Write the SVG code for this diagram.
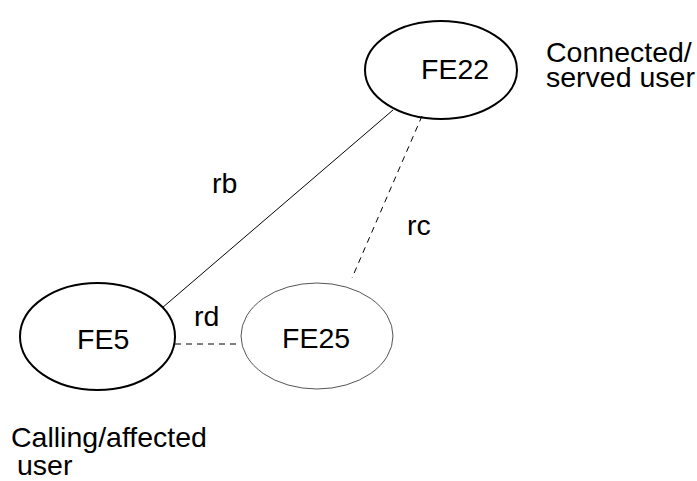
<svg xmlns="http://www.w3.org/2000/svg" width="697" height="481" viewBox="0 0 697 481">
<style>
text{font-family:"Liberation Sans",Arial,sans-serif;font-size:28.5px;fill:#000}
.node{fill:none;stroke:#000;stroke-width:2}
.ghost{fill:none;stroke:#555;stroke-width:1}
.solid{stroke:#000;stroke-width:1;fill:none}
.dash{stroke:#000;stroke-width:1;fill:none;stroke-dasharray:6 5}
</style>
<rect width="697" height="481" fill="#fff"/>
<g id="connectors">
<line class="solid" x1="162" y1="308" x2="393" y2="110"/>
<line class="dash" x1="422" y1="116" x2="352" y2="278"/>
<line class="dash" x1="175" y1="344" x2="241" y2="344"/>
<text x="212" y="193">rb</text>
<text x="407" y="235">rc</text>
<text x="194" y="326">rd</text>
</g>
<g id="FE22">
<ellipse class="node" cx="441" cy="70" rx="76" ry="49"/>
<text x="421" y="79">FE22</text>
</g>
<g id="FE5">
<ellipse class="node" cx="97.5" cy="336.5" rx="77.5" ry="53.5"/>
<text x="77" y="349">FE5</text>
</g>
<g id="FE25">
<ellipse class="ghost" cx="317" cy="336" rx="76" ry="53"/>
<text x="282" y="348">FE25</text>
</g>
<g id="labels">
<text x="546" y="62">Connected/</text>
<text x="546" y="87">served user</text>
<text x="11" y="447">Calling/affected</text>
<text x="17" y="475">user</text>
</g>
</svg>
